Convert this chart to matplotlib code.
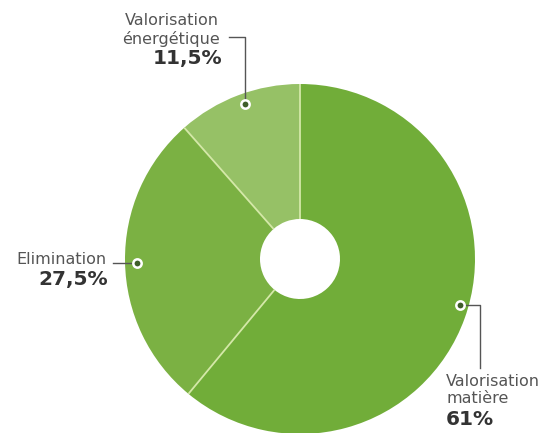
import numpy as np
import matplotlib
matplotlib.use("Agg")
import matplotlib.pyplot as plt

labels = ["Valorisation\nmatière", "Elimination", "Valorisation\nénergétique"]
values = [61, 27.5, 11.5]
pct_labels = ["61%", "27,5%", "11,5%"]
colors = ["#71ad39", "#7bb143", "#96c166"]

W, H = 548, 433
fig = plt.figure(figsize=(W / 100, H / 100), dpi=100)
ax = fig.add_axes([0, 0, 1, 1])

cx, cy, R = 300, H - 259, 175
hole = 40
ax.pie(values, colors=colors, startangle=90, counterclock=False,
       center=(cx, cy), radius=R, frame=True,
       wedgeprops=dict(width=R - hole, edgecolor="none", linewidth=0))
ax.set_xlim(0, W)
ax.set_ylim(0, H)
ax.set_aspect("equal")
ax.axis("off")

# radial separators
cum = np.cumsum([0] + values)
for c in cum[:-1]:
    ang = np.deg2rad(90 - 360 * c / sum(values))
    ax.plot([cx + hole * np.cos(ang), cx + R * np.cos(ang)],
            [cy + hole * np.sin(ang), cy + R * np.sin(ang)],
            color="#d4e8a8", lw=1.3, zorder=4, solid_capstyle="butt")

fam = ["DejaVu Sans"]
gray = "#555555"
dark = "#333333"

def Y(y):
    return H - y

# connectors
ax.plot([229, 245, 245], [Y(37), Y(37), Y(104)], color="#555555", lw=1, zorder=5)
ax.plot([113, 137], [Y(263), Y(263)], color="#555555", lw=1, zorder=5)
ax.plot([460, 480, 480], [Y(305), Y(305), Y(368)], color="#555555", lw=1, zorder=5)
for (x, y) in [(245, 104), (137, 263), (460, 305)]:
    ax.plot(x, Y(y), "o", ms=6, mfc="#3f5e2a", mec="white", mew=1.8, zorder=6)

fs, fb = 11.5, 14.5

# énergétique
l1, l2 = labels[2].split("\n")
ax.text(219, Y(25), l1, ha="right", va="baseline", fontsize=fs, family=fam, color=gray)
ax.text(220, Y(44), l2, ha="right", va="baseline", fontsize=fs, family=fam, color=gray)
ax.text(222, Y(64), pct_labels[2], ha="right", va="baseline", fontsize=fb,
        family=fam, color=dark, weight="bold")

# élimination
ax.text(107, Y(264), labels[1], ha="right", va="baseline", fontsize=fs,
        family=fam, color=gray)
ax.text(108, Y(285), pct_labels[1], ha="right", va="baseline", fontsize=fb,
        family=fam, color=dark, weight="bold")

# matière
m1, m2 = labels[0].split("\n")
ax.text(446, Y(386), m1, ha="left", va="baseline", fontsize=fs, family=fam, color=gray)
ax.text(446, Y(403), m2, ha="left", va="baseline", fontsize=fs, family=fam, color=gray)
ax.text(446, Y(425), pct_labels[0], ha="left", va="baseline", fontsize=fb,
        family=fam, color=dark, weight="bold")

fig.savefig("out.png", dpi=100, facecolor="white")
